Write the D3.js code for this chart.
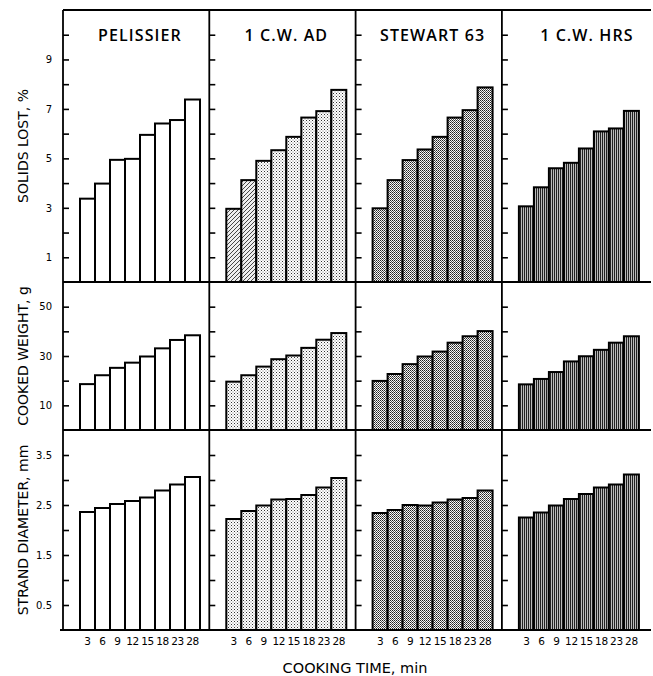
<!DOCTYPE html>
<html><head><meta charset="utf-8">
<script src="https://cdn.jsdelivr.net/npm/d3@7"></script>
<style>body{margin:0;background:#fff} svg{display:block}</style>
</head><body><svg id="c" width="653" height="676"></svg>
<script>
// ---------- data ----------
const cookingTimes = ["3","6","9","12","15","18","23","28"];
const varieties = ["PELISSIER","1 C.W. AD","STEWART 63","1 C.W. HRS"];
const measures = ["SOLIDS LOST, %","COOKED WEIGHT, g","STRAND DIAMETER, mm"];

const solidsPelissier = [3.37,3.98,4.94,4.98,5.95,6.41,6.55,7.38];
const solidsAD        = [2.96,4.12,4.90,5.33,5.87,6.65,6.91,7.77];
const solidsStewart   = [2.98,4.12,4.93,5.36,5.87,6.65,6.95,7.87];
const solidsHRS       = [3.06,3.83,4.60,4.82,5.40,6.09,6.21,6.92];

const weightPelissier = [18.6,22.2,25.2,27.3,29.8,33.1,36.5,38.4];
const weightAD        = [19.6,22.2,25.7,28.7,30.2,33.3,36.6,39.3];
const weightStewart   = [19.9,22.7,26.7,29.8,31.8,35.4,38.0,40.1];
const weightHRS       = [18.5,20.7,23.5,27.8,29.9,32.5,35.4,38.0];

const diamPelissier = [2.36,2.44,2.52,2.58,2.65,2.79,2.91,3.06];
const diamAD        = [2.22,2.38,2.49,2.61,2.62,2.70,2.85,3.04];
const diamStewart   = [2.34,2.40,2.50,2.49,2.55,2.61,2.64,2.79];
const diamHRS       = [2.25,2.35,2.49,2.62,2.72,2.85,2.91,3.11];

const solidsTickLabels = [1,3,5,7,9];
const solidsTickMarks  = [1,2,3,4,5,6,7,8,9,10];
const weightTickLabels = [10,30,50];
const weightTickMarks  = [10,20,30,40,50];
const diamTickLabels   = [0.5,1.5,2.5,3.5];
const diamTickMarks    = [0.5,1,1.5,2,2.5,3,3.5];
const domainMax = [11,60,4];

const rowsData = [
  [solidsPelissier, solidsAD, solidsStewart, solidsHRS],
  [weightPelissier, weightAD, weightStewart, weightHRS],
  [diamPelissier, diamAD, diamStewart, diamHRS]
];
const tickLabels = [solidsTickLabels, weightTickLabels, diamTickLabels];
const tickMarks = [solidsTickMarks, weightTickMarks, diamTickMarks];

// ---------- layout ----------
const svg = d3.select("#c");
const FONT = "'DejaVu Sans', sans-serif";
const TFONT = "'Open Sans', 'DejaVu Sans', sans-serif";
const frameL = 63, frameR = 651, colW = 146.3;
const rowTop = [10, 282, 430], rowBot = [282, 430, 630];

// patterns
const defs = svg.append("defs");
function pat(id, w, h, draw) {
  const p = defs.append("pattern").attr("id", id).attr("patternUnits", "userSpaceOnUse")
    .attr("width", w).attr("height", h);
  p.append("rect").attr("width", w).attr("height", h).attr("fill", "#fff");
  draw(p);
}
pat("dots", 3, 3, p => {
  p.append("rect").attr("x",0).attr("y",0).attr("width",1).attr("height",1).attr("fill","#333");
  p.append("rect").attr("x",1.5).attr("y",1.5).attr("width",1).attr("height",1).attr("fill","#777");
});
pat("hatch", 4, 4, p => {
  p.append("rect").attr("width",4).attr("height",4).attr("fill","#eee");
  p.append("path").attr("d","M-1,5 L5,-1 M-1,1 L1,-1 M3,5 L5,3").attr("stroke","#333").attr("stroke-width",0.9);
});
pat("checker", 2, 2, p => {
  p.append("rect").attr("x",0).attr("y",0).attr("width",1).attr("height",1).attr("fill","#222");
  p.append("rect").attr("x",1).attr("y",1).attr("width",1).attr("height",1).attr("fill","#555");
  p.append("rect").attr("x",1).attr("y",0).attr("width",1).attr("height",1).attr("fill","#eee");
});
pat("stripes", 2, 2, p => {
  p.append("rect").attr("x",0).attr("y",0).attr("width",1).attr("height",2).attr("fill","#222");
  p.append("rect").attr("x",1).attr("y",0).attr("width",1).attr("height",2).attr("fill","#bbb");
});
const fills = ["#fff", "url(#dots)", "url(#checker)", "url(#stripes)"];

const g = svg.append("g");

rowsData.forEach((row, r) => {
  const y = d3.scaleLinear().domain([0, domainMax[r]]).range([rowBot[r], rowTop[r]]);
  row.forEach((vals, c) => {
    const x0 = frameL + c * colW;
    const x = d3.scaleBand().domain(cookingTimes).range([x0 + 17, x0 + 137]).paddingInner(0).paddingOuter(0);
    const pg = g.append("g");
    pg.selectAll("rect").data(vals).join("rect")
      .attr("x", (d, i) => x(cookingTimes[i]))
      .attr("y", d => y(d))
      .attr("width", x.bandwidth())
      .attr("height", d => y(0) - y(d))
      .attr("fill", (d, i) => (r === 0 && c === 1 && i < 2) ? "url(#hatch)" : fills[c])
      .attr("stroke", "#000").attr("stroke-width", 2);

    // inward ticks
    const ax = pg.append("g").attr("transform", `translate(${x0},0)`)
      .call(d3.axisRight(y).tickValues(tickMarks[r]).tickSize(6).tickFormat(""));
    ax.select(".domain").remove();
    ax.selectAll("line").attr("stroke", "#000").attr("stroke-width", 1.6);

    if (c === 0) {
      const al = pg.append("g").attr("transform", `translate(${x0},0)`)
        .call(d3.axisLeft(y).tickValues(tickLabels[r]).tickSize(0).tickPadding(11));
      al.select(".domain").remove();
      al.selectAll("text").attr("font-family", FONT).attr("font-size", 10).attr("fill", "#000");
    }
    if (r === 0) {
      pg.append("text").attr("x", x0 + 77 + (c === 3 ? 8 : 0)).attr("y", 41)
        .attr("text-anchor", "middle").attr("font-family", TFONT).attr("font-weight", 600)
        .attr("font-size", 16).attr("letter-spacing", 1.1).text(varieties[c]);
    }
    if (r === 2) {
      const bx = pg.append("g").attr("transform", `translate(0,${rowBot[r]})`)
        .call(d3.axisBottom(x).tickSize(0).tickPadding(8));
      bx.select(".domain").remove();
      bx.selectAll("text").attr("font-family", FONT).attr("font-size", 10.5).attr("fill", "#000")
        .attr("letter-spacing", -0.3);
    }
  });
  // row label
  g.append("text")
    .attr("transform", `translate(28,${(rowTop[r] + rowBot[r]) / 2}) rotate(-90)`)
    .attr("text-anchor", "middle").attr("font-family", FONT).attr("font-size", 14)
    .text(measures[r]);
});

// frame lines
const lw = 1.8;
const fr = g.append("g").attr("stroke", "#000").attr("stroke-width", lw);
fr.append("line").attr("x1", frameL).attr("x2", frameR).attr("y1", rowTop[0]).attr("y2", rowTop[0]);
rowBot.forEach((yy, i) => {
  fr.append("line").attr("x1", i === 2 ? frameL - 3 : frameL).attr("x2", frameR).attr("y1", yy).attr("y2", yy);
});
varieties.forEach((v, c) => {
  const xx = frameL + c * colW;
  fr.append("line").attr("x1", xx).attr("x2", xx).attr("y1", rowTop[0]).attr("y2", rowBot[2]);
});

g.append("text").attr("x", 355).attr("y", 673).attr("text-anchor", "middle")
  .attr("font-family", FONT).attr("font-size", 14.5).text("COOKING TIME, min");
</script></body></html>
